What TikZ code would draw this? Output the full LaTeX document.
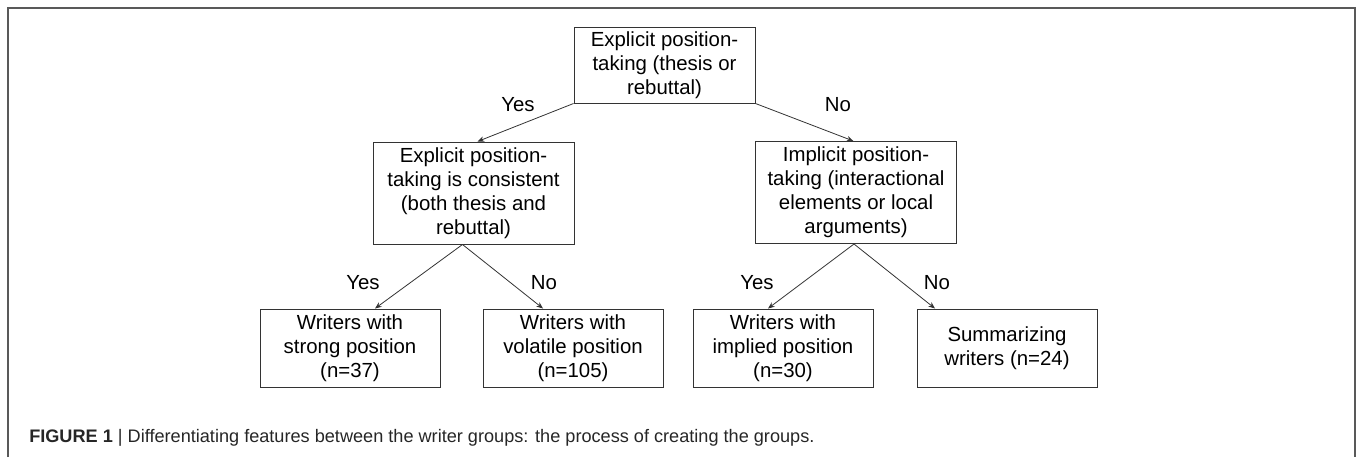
\documentclass[tikz,border=0pt]{standalone}
\usepackage{fontspec}
\setmainfont{Liberation Sans}
\usepackage{tikz}
\usetikzlibrary{arrows.meta}
\pgfdeclarelayer{nodelayer}
\pgfdeclarelayer{edgelayer}
\pgfsetlayers{nodelayer,edgelayer,main}
\tikzset{
  box/.style={draw=black!80, line width=0.75pt, inner sep=0pt, align=center,
    font=\fontsize{15.3}{18}\selectfont},
  topbox/.style={box, minimum width=135.75pt, minimum height=57pt},
  midbox/.style={box, minimum width=150.75pt, minimum height=76.5pt},
  leafbox/.style={box, minimum width=135pt, minimum height=58.5pt},
  answer/.style={font=\fontsize{15.3}{18}\selectfont},
  branch/.style={draw=black!80, line width=0.6pt, -{Stealth[length=5pt,width=4pt]}}
}

\begin{document}
\begin{tikzpicture}[x=0.75pt, y=-0.75pt]
  \useasboundingbox (0,0) rectangle (1358,457);
  \draw [black!65, line width=1.1pt] (8,457) -- (8,8) -- (1355,8) -- (1355,457);
  \begin{pgfonlayer}{nodelayer}
    \node [topbox] (0) at (664.5, 65) {Explicit position-\\taking (thesis or\\rebuttal)};
    \node [midbox] (1) at (473.5, 193) {Explicit position-\\taking is consistent\\(both thesis and\\rebuttal)};
    \node [midbox] (2) at (856, 192.5) {Implicit position-\\taking (interactional\\elements or local\\arguments)};
    \node [leafbox] (3) at (350, 348) {Writers with\\strong position\\(n=37)};
    \node [leafbox] (4) at (573, 348) {Writers with\\volatile position\\(n=105)};
    \node [leafbox] (5) at (783, 348) {Writers with\\implied position\\(n=30)};
    \node [leafbox] (6) at (1007, 348) {Summarizing\\writers (n=24)};
    \node [answer] (7) at (518, 105) {Yes};
    \node [answer] (8) at (838, 105) {No};
    \node [answer] (9) at (363, 283) {Yes};
    \node [answer] (10) at (544, 283) {No};
    \node [answer] (11) at (757, 283) {Yes};
    \node [answer] (12) at (937, 283) {No};
    \node [anchor=west, inner sep=0pt, text=black!85, font=\fontsize{13.6}{16}\selectfont] (13) at (29, 438)
      {\textbf{FIGURE 1} | Differentiating features between the writer groups: the process of creating the groups.};
  \end{pgfonlayer}
  \begin{pgfonlayer}{edgelayer}
    \draw [branch] (0.south west) to ([xshift=3pt]1.north);
    \draw [branch] (0.south east) to ([xshift=-2pt]2.north);
    \draw [branch] ([xshift=-8.25pt]1.south) to ([xshift=18.75pt]3.north);
    \draw [branch] ([xshift=-8.25pt]1.south) to ([xshift=-22.5pt]4.north);
    \draw [branch] ([xshift=-1.5pt]2.south) to ([xshift=-11.25pt]5.north);
    \draw [branch] ([xshift=-1.5pt]2.south) to ([xshift=-54pt]6.north);
  \end{pgfonlayer}
\end{tikzpicture}
\end{document}
